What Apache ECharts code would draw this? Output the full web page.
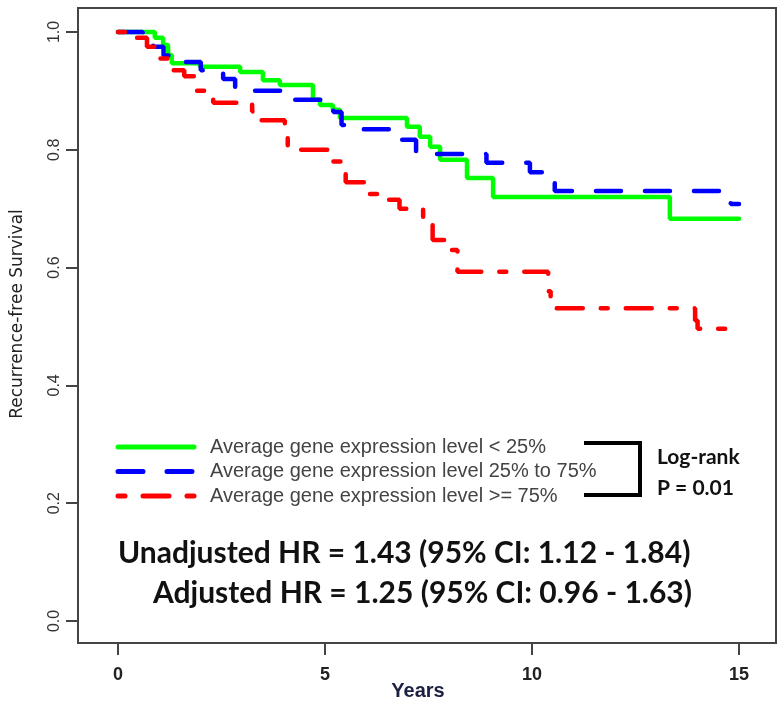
<!DOCTYPE html>
<html>
<head>
<meta charset="utf-8">
<script src="https://cdn.jsdelivr.net/npm/echarts@6/dist/echarts.min.js"></script>
<style>
  html, body { margin: 0; padding: 0; background: #fff; }
  #chart { width: 778px; height: 704px; }
</style>
</head>
<body>
<div id="chart"></div>
<script>
// Kaplan-Meier steps: [years, survival], value holds until next point
const lowGroup = [
  [0, 1], [0.89, 0.99], [1.09, 0.978], [1.21, 0.961], [1.3, 0.947], [1.98, 0.941],
  [2.95, 0.932], [3.5, 0.918], [3.91, 0.91], [4.71, 0.885], [4.88, 0.876],
  [5.19, 0.868], [5.36, 0.854], [6.98, 0.839], [7.29, 0.822], [7.54, 0.805],
  [7.78, 0.783], [8.43, 0.752], [9.06, 0.72], [13.33, 0.683], [15, 0.683]
];
const midGroup = [
  [0, 1], [0.6, 0.99], [0.85, 0.975], [1.1, 0.96], [1.5, 0.949], [2.0, 0.935],
  [2.54, 0.92], [2.83, 0.9], [4.15, 0.885], [5.2, 0.864], [5.4, 0.842],
  [5.53, 0.835], [6.86, 0.817], [7.2, 0.793], [8.9, 0.778], [9.95, 0.762],
  [10.55, 0.73], [14.8, 0.708], [15, 0.708]
];
const highGroup = [
  [0, 1], [0.3, 0.99], [0.7, 0.975], [0.95, 0.955], [1.25, 0.935], [1.6, 0.925],
  [1.9, 0.9], [2.3, 0.88], [3.24, 0.865], [3.4, 0.85], [4.03, 0.825], [4.1, 0.8],
  [5.17, 0.78], [5.5, 0.745], [6.0, 0.725], [6.5, 0.715],
  [6.8, 0.7], [7.37, 0.675], [7.6, 0.647], [7.9, 0.63], [8.2, 0.593],
  [10.39, 0.56], [10.45, 0.531], [13.94, 0.51], [14.0, 0.496], [15, 0.496]
];
const groupNames = [
  'Average gene expression level < 25%',
  'Average gene expression level 25% to 75%',
  'Average gene expression level >= 75%'
];
const groupColors = ['#00ff00', '#0000ff', '#ff0000'];
const groupDash = ['solid', [25, 24], [7, 18, 26, 18]];
const xTicks = [0, 5, 10, 15];
const yTicks = [0, 0.2, 0.4, 0.6, 0.8, 1.0];

const chart = echarts.init(document.getElementById('chart'));

// hand-made legend so the dash patterns show at full length
const legendGraphics = [];
groupNames.forEach((name, i) => {
  const y = 447 + i * 24.5;
  legendGraphics.push({
    type: 'line', z: 10,
    shape: { x1: 118, y1: y, x2: 194, y2: y },
    style: { stroke: groupColors[i], lineWidth: 5, lineCap: 'round',
             lineDash: groupDash[i] === 'solid' ? null : groupDash[i] }
  });
  legendGraphics.push({
    type: 'text', z: 10, x: 210, y: y,
    style: { text: name, font: '20px "Liberation Sans"', fill: '#444', verticalAlign: 'middle' }
  });
});

const option = {
  animation: false,
  backgroundColor: '#fff',
  grid: {
    left: 78, right: 2, top: 8, bottom: 61,
    show: true, borderColor: '#444', borderWidth: 2
  },
  xAxis: {
    type: 'value',
    min: -0.966, max: 15.894,
    splitLine: { show: false },
    axisLine: { onZero: false, lineStyle: { color: '#444', width: 2 } },
    axisTick: { customValues: xTicks, length: 12, lineStyle: { color: '#444', width: 2 } },
    axisLabel: {
      customValues: xTicks, margin: 23,
      fontFamily: 'Liberation Sans Narrow, Liberation Sans', fontWeight: 'bold', fontSize: 18, color: '#222'
    }
  },
  yAxis: {
    type: 'value',
    min: -0.0374, max: 1.0407,
    splitLine: { show: false },
    axisLine: { onZero: false, lineStyle: { color: '#444', width: 2 } },
    axisTick: { customValues: yTicks, length: 12, lineStyle: { color: '#444', width: 2 } },
    axisLabel: {
      customValues: yTicks, margin: 15, rotate: 90,
      formatter: v => v.toFixed(1),
      fontFamily: 'Liberation Sans', fontSize: 16, color: '#333'
    }
  },
  series: groupNames.map((name, i) => ({
    name: name,
    type: 'line',
    step: 'end',
    symbol: 'none',
    data: [lowGroup, midGroup, highGroup][i],
    lineStyle: { color: groupColors[i], width: 4.5, type: groupDash[i], cap: 'round' },
    z: 3 + i
  })),
  graphic: legendGraphics.concat([
    {
      type: 'text', z: 10, x: 18, y: 314, rotation: Math.PI / 2,
      style: { text: 'Recurrence-free Survival', font: '17px "DejaVu Sans"', fill: '#222',
               align: 'center', verticalAlign: 'middle' }
    },
    {
      type: 'polyline', z: 10,
      shape: { points: [[584, 443], [640, 443], [640, 495], [584, 495]] },
      style: { stroke: '#000', lineWidth: 4, fill: null }
    },
    {
      type: 'text', z: 10, x: 657, y: 457,
      style: { text: 'Log-rank', font: 'bold 21px Lato', fill: '#111', verticalAlign: 'middle' }
    },
    {
      type: 'text', z: 10, x: 657, y: 488,
      style: { text: 'P = 0.01', font: 'bold 21px Lato', fill: '#111', verticalAlign: 'middle' }
    },
    {
      type: 'text', z: 10, x: 118, y: 553,
      style: { text: 'Unadjusted HR = 1.43 (95% CI: 1.12 - 1.84)', font: 'bold 30px Lato', fill: '#111', verticalAlign: 'middle' }
    },
    {
      type: 'text', z: 10, x: 153, y: 593,
      style: { text: 'Adjusted HR = 1.25 (95% CI: 0.96 - 1.63)', font: 'bold 30px Lato', fill: '#111', verticalAlign: 'middle' }
    },
    {
      type: 'text', z: 10, x: 418, y: 691,
      style: { text: 'Years', font: 'bold 20px "Liberation Sans Narrow", "Liberation Sans"', fill: '#1c2040',
               align: 'center', verticalAlign: 'middle' }
    }
  ])
};

chart.setOption(option);
</script>
</body>
</html>
